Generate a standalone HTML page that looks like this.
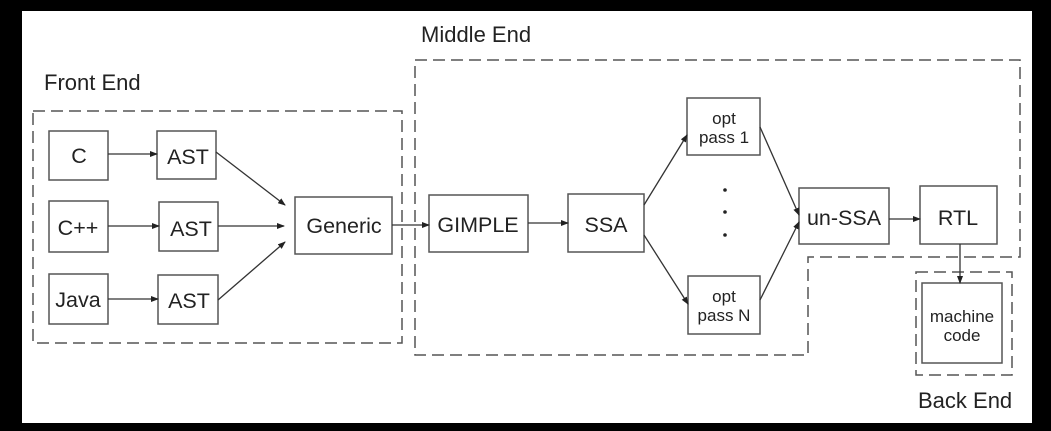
<!DOCTYPE html>
<html><head><meta charset="utf-8"><style>
html,body{margin:0;padding:0;background:#000;}
svg{display:block}
text{font-family:"Liberation Sans",Arial,sans-serif;fill:#222}
</style></head><body>
<svg width="1051" height="431" viewBox="0 0 1051 431" xmlns="http://www.w3.org/2000/svg">
<defs><marker id="a" markerWidth="8" markerHeight="6" refX="7" refY="3" orient="auto" markerUnits="userSpaceOnUse"><path d="M0,0 L8,3 L0,6 z" fill="#222"/></marker></defs>
<rect x="0" y="0" width="1051" height="431" fill="#000"/>
<rect x="22" y="11" width="1010" height="412" fill="#fff"/>
<g fill="none" stroke="#555" stroke-width="1.5" stroke-dasharray="12,6">
<rect x="33" y="111" width="369" height="232"/>
<path d="M415,60 L1020,60 L1020,257 L808,257 L808,355 L415,355 Z"/>
<rect x="916" y="272" width="96" height="103"/>
</g>
<g font-size="22">
<text x="44" y="90">Front End</text>
<text x="421" y="42">Middle End</text>
<text x="918" y="408">Back End</text>
</g>
<g fill="#fff" stroke="#555" stroke-width="1.5">
<rect x="49" y="131" width="59" height="49"/>
<rect x="157" y="131" width="59" height="48"/>
<rect x="49" y="201" width="59" height="51"/>
<rect x="159" y="202" width="59" height="49"/>
<rect x="49" y="274" width="59" height="50"/>
<rect x="158" y="275" width="60" height="49"/>
<rect x="295" y="197" width="97" height="57"/>
<rect x="429" y="195" width="99" height="57"/>
<rect x="568" y="194" width="76" height="58"/>
<rect x="687" y="98" width="73" height="57"/>
<rect x="688" y="276" width="72" height="58"/>
<rect x="799" y="188" width="90" height="56"/>
<rect x="920" y="186" width="77" height="58"/>
<rect x="922" y="283" width="80" height="80"/>
</g>
<g stroke="#333" stroke-width="1.3" fill="none" marker-end="url(#a)">
<line x1="108" y1="154" x2="157" y2="154"/>
<line x1="108" y1="226" x2="159" y2="226"/>
<line x1="108" y1="299" x2="158" y2="299"/>
<line x1="216" y1="152" x2="285" y2="205"/>
<line x1="218" y1="226" x2="284" y2="226"/>
<line x1="218" y1="300" x2="285" y2="242"/>
<line x1="392" y1="225" x2="429" y2="225"/>
<line x1="528" y1="223" x2="568" y2="223"/>
<line x1="644" y1="205" x2="687" y2="135"/>
<line x1="644" y1="235" x2="688" y2="304"/>
<line x1="760" y1="127" x2="799" y2="215"/>
<line x1="760" y1="300" x2="799" y2="222"/>
<line x1="889" y1="219" x2="920" y2="219"/>
<line x1="960" y1="244" x2="960" y2="283"/>
</g>
<g fill="#222"><circle cx="725" cy="190" r="1.8"/><circle cx="725" cy="212" r="1.8"/><circle cx="725" cy="235" r="1.8"/></g>
<g font-size="21.5" text-anchor="middle">
<text x="79" y="163">C</text>
<text x="188" y="164">AST</text>
<text x="78" y="235">C++</text>
<text x="191" y="236">AST</text>
<text x="78" y="307">Java</text>
<text x="189" y="308">AST</text>
<text x="344" y="233">Generic</text>
<text x="478" y="232">GIMPLE</text>
<text x="606" y="232">SSA</text>
<text x="844" y="225">un-SSA</text>
<text x="958" y="225">RTL</text>
</g>
<g font-size="17" text-anchor="middle">
<text x="724" y="124">opt</text>
<text x="724" y="143">pass 1</text>
<text x="724" y="302">opt</text>
<text x="724" y="321">pass N</text>
<text x="962" y="322">machine</text>
<text x="962" y="341">code</text>
</g>
</svg>
</body></html>
